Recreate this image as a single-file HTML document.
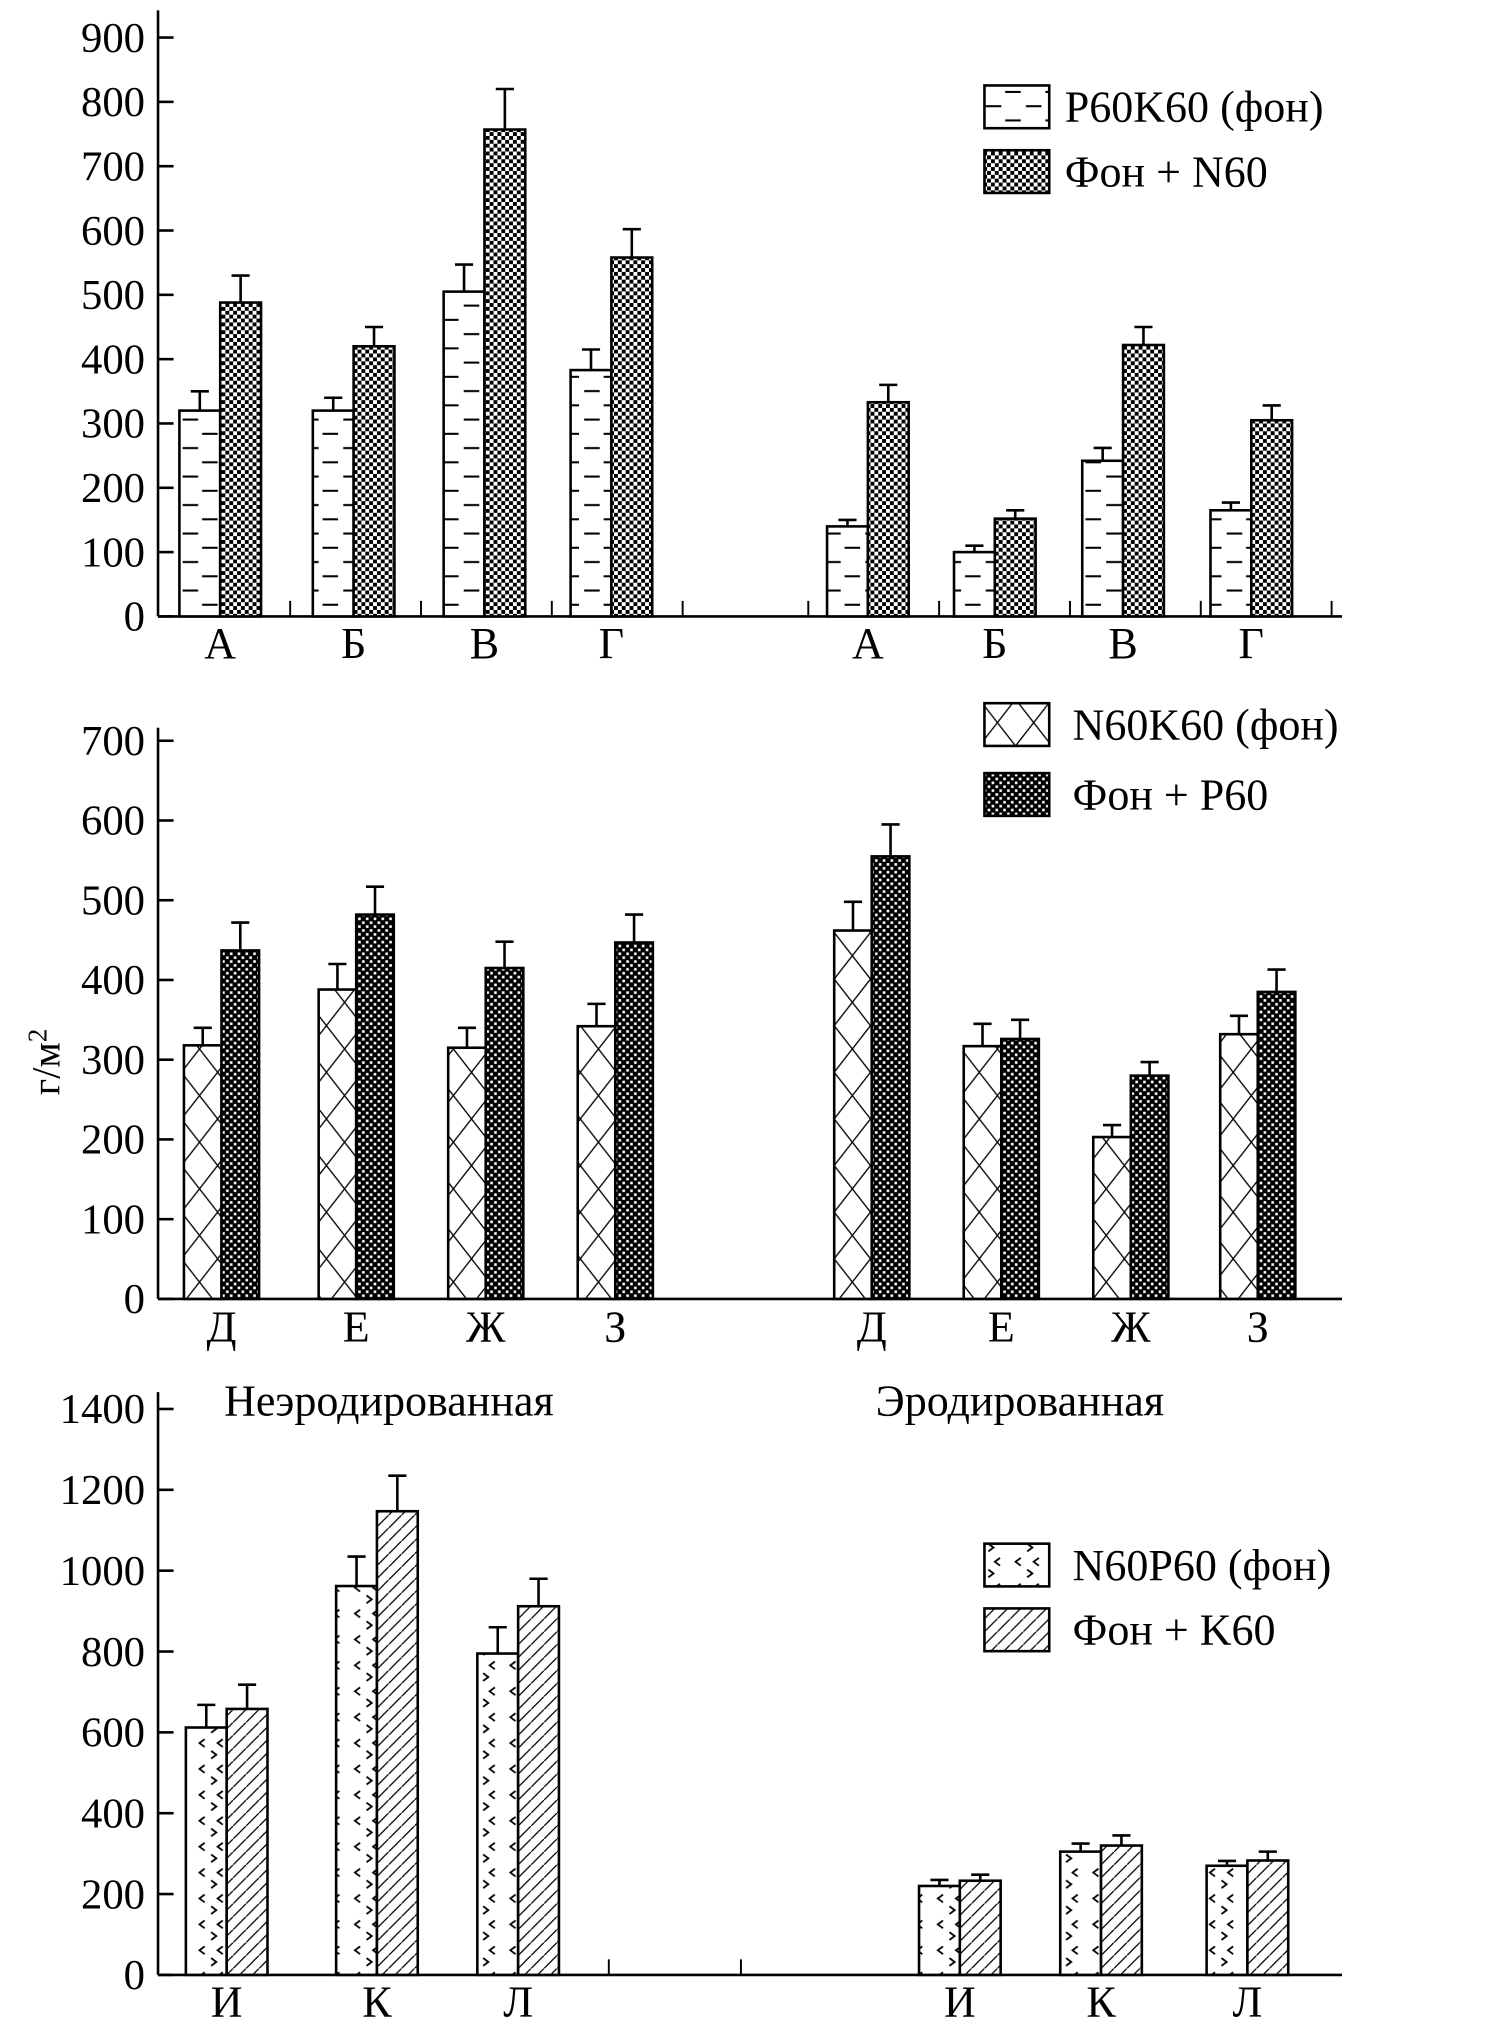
<!DOCTYPE html>
<html><head><meta charset="utf-8"><style>
html,body{margin:0;padding:0;background:#fff;}
svg{display:block;font-family:"Liberation Serif",serif;}
</style></head><body>
<svg id="chart" width="1500" height="2028" viewBox="0 0 1158 1566" preserveAspectRatio="none" xmlns="http://www.w3.org/2000/svg">
<defs>
<pattern id="pDash" width="31" height="22" patternUnits="userSpaceOnUse">
<rect width="31" height="22" fill="#fff"/><line x1="1" y1="5" x2="13" y2="5" stroke="#000" stroke-width="1.6"/><line x1="17" y1="16" x2="29" y2="16" stroke="#000" stroke-width="1.6"/></pattern>
<pattern id="pCheck" width="6" height="6" patternUnits="userSpaceOnUse">
<rect width="6" height="6" fill="#fff"/><rect width="3" height="3" fill="#000"/><rect x="3" y="3" width="3" height="3" fill="#000"/></pattern>
<pattern id="pCross" width="28" height="36" patternUnits="userSpaceOnUse">
<rect width="28" height="36" fill="#fff"/><line x1="0" y1="0" x2="28" y2="36" stroke="#000" stroke-width="1"/><line x1="28" y1="0" x2="0" y2="36" stroke="#000" stroke-width="1"/></pattern>
<pattern id="pDots" width="6" height="6" patternUnits="userSpaceOnUse">
<rect width="6" height="6" fill="#000"/><rect x="0.5" y="0.5" width="2" height="2" fill="#fff"/><rect x="3.5" y="3.5" width="2" height="2" fill="#fff"/></pattern>
<pattern id="pZig" width="30" height="20" patternUnits="userSpaceOnUse">
<rect width="30" height="20" fill="#fff"/><path d="M8 3 L4 6 L8 9 M22 3 L18 6 L22 9 M13 12 L17 15 L13 18" stroke="#000" stroke-width="1.4" fill="none"/></pattern>
<pattern id="pDiag" width="10" height="10" patternUnits="userSpaceOnUse">
<rect width="10" height="10" fill="#fff"/><path d="M-2 12 L12 -2" stroke="#000" stroke-width="1"/></pattern>
</defs>
<g id="root"></g>
</svg>
<script>
// Panel 1
const cats1 = ["А","Б","В","Г","А","Б","В","Г"];
const p1base = [320,320,505,383,140,100,242,165];
const p1baseErr = [350,340,547,415,150,110,262,177];
const p1add = [488,420,757,558,333,152,422,305];
const p1addErr = [530,450,820,602,360,165,450,328];
const ticks1 = [0,100,200,300,400,500,600,700,800,900];
// Panel 2
const cats2 = ["Д","Е","Ж","З","Д","Е","Ж","З"];
const p2base = [318,388,315,342,462,317,203,332];
const p2baseErr = [340,420,340,370,498,345,218,355];
const p2add = [437,482,415,447,555,326,280,385];
const p2addErr = [472,517,448,482,595,350,297,413];
const ticks2 = [0,100,200,300,400,500,600,700];
// Panel 3
const cats3 = ["И","К","Л","И","К","Л"];
const p3base = [612,962,795,220,305,270];
const p3baseErr = [668,1035,860,235,325,282];
const p3add = [658,1147,912,233,320,283];
const p3addErr = [718,1235,980,248,345,305];
const ticks3 = [0,200,400,600,800,1000,1200,1400];

const NS="http://www.w3.org/2000/svg";
const root=document.getElementById('root');
function mk(tag,attrs,parent){const e=document.createElementNS(NS,tag);for(const k in attrs)e.setAttribute(k,attrs[k]);(parent||root).appendChild(e);return e;}

function panel(cfg){
  const g=mk('g',{});
  
  
  const y=v=>cfg.y0-(v/cfg.vmax)*(cfg.y0-cfg.yTop);
  const ax=mk('line',{x1:122,y1:cfg.axTop,x2:122,y2:cfg.y0,stroke:'#000','stroke-width':2},g);
  
  
  const xa=mk('line',{x1:122,y1:cfg.y0,x2:1036,y2:cfg.y0,stroke:'#000','stroke-width':2},g);
  
  
  cfg.ticks.forEach(t=>{
    mk('line',{x1:122,y1:y(t),x2:134,y2:y(t),stroke:'#000','stroke-width':2},g);
    const tx=mk('text',{x:112,y:y(t)+11,'text-anchor':'end','font-size':33},g);
    tx.textContent=t;
    
    
  });
  cfg.minor.forEach(mx=>mk('line',{x1:mx,y1:cfg.y0,x2:mx,y2:cfg.y0-12,stroke:'#000','stroke-width':1.5},g));
  cfg.cats.forEach((c,i)=>{
    const cx=cfg.centers[i], w=cfg.bw;
    [[cfg.base,cfg.baseErr,cfg.fill1,cx-w,'bar-base'],[cfg.add,cfg.addErr,cfg.fill2,cx,'bar-added']].forEach(s=>{
      const v=s[0][i], e=s[1][i], x=s[3];
      const r=mk('rect',{x:x,y:y(v),width:w,height:cfg.y0-y(v),fill:s[2],stroke:'#000','stroke-width':2},g);
      
      
      const eb=mk('path',{d:`M${x+w/2} ${y(v)} V${y(e)} M${x+w/2-7} ${y(e)} H${x+w/2+7}`,stroke:'#000','stroke-width':2,fill:'none'},g);
      
      
    });
    const lt=mk('text',{x:cx,y:cfg.labY,'text-anchor':'middle','font-size':34},g);
    lt.textContent=c;
    
    
  });
  cfg.legend.forEach((L,j)=>{
    const lg=mk('g',{},g);
    
    
    mk('rect',{x:760,y:L[0],width:50,height:33,fill:L[1],stroke:'#000','stroke-width':2},lg);
    const t=mk('text',{x:cfg.legX,y:L[0]+28,'font-size':34},lg);
    t.textContent=L[2];
  });
}

panel({name:'panel-nitrogen',y0:476,yTop:29,vmax:900,axTop:8,ticks:ticks1,cats:cats1,
  centers:[170,273,374,472,670,768,867,966],bw:31.5,base:p1base,baseErr:p1baseErr,add:p1add,addErr:p1addErr,
  fill1:'url(#pDash)',fill2:'url(#pCheck)',labY:508,minor:[224,325,426,527,624,725,826,927,1028],
  legend:[[66,'url(#pDash)','P60K60 (фон)'],[116,'url(#pCheck)','Фон + N60']],legX:822});
panel({name:'panel-phosphorus',y0:1003,yTop:572,vmax:700,axTop:562,ticks:ticks2,cats:cats2,
  centers:[171,275,375,475,673,773,873,971],bw:29,base:p2base,baseErr:p2baseErr,add:p2add,addErr:p2addErr,
  fill1:'url(#pCross)',fill2:'url(#pDots)',labY:1036,minor:[],
  legend:[[543,'url(#pCross)','N60K60 (фон)'],[597,'url(#pDots)','Фон + P60']],legX:828});
panel({name:'panel-potassium',y0:1525,yTop:1088,vmax:1400,axTop:1075,ticks:ticks3,cats:cats3,
  centers:[175,291,400,741,850,963],bw:31.5,base:p3base,baseErr:p3baseErr,add:p3add,addErr:p3addErr,
  fill1:'url(#pZig)',fill2:'url(#pDiag)',labY:1557,minor:[470,572],
  legend:[[1192,'url(#pZig)','N60P60 (фон)'],[1242,'url(#pDiag)','Фон + K60']],legX:828});

const yl=mk('text',{x:0,y:0,'font-size':31,transform:'translate(46 820) rotate(-90)','text-anchor':'middle'});
yl.innerHTML='г/м<tspan dy="-10" font-size="21">2</tspan>';


const s1=mk('text',{x:173,y:1093,'font-size':34});
s1.textContent='Неэродированная';


const s2=mk('text',{x:676,y:1093,'font-size':34});
s2.textContent='Эродированная';


</script>
</body></html>
